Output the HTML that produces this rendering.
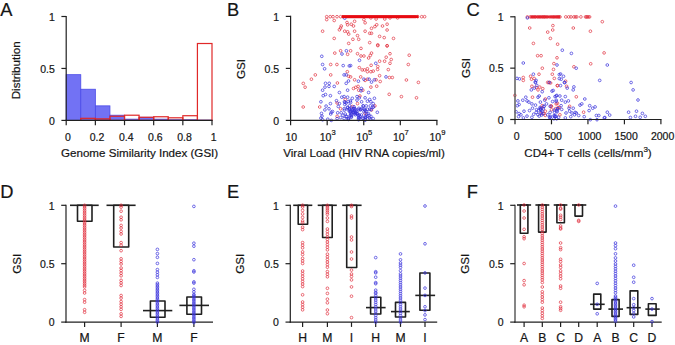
<!DOCTYPE html>
<html><head><meta charset="utf-8"><style>html,body{margin:0;padding:0;background:#fff;overflow:hidden}svg{display:block}</style></head>
<body><svg width="675" height="345" viewBox="0 0 675 345" font-family='"Liberation Sans", sans-serif' fill="#151515"><style>text{stroke:#151515;stroke-width:0.2px} circle{fill:none;stroke-width:0.85px} .r{stroke:#e02a38;stroke-opacity:0.8} .b{stroke:#3a34dc;stroke-opacity:0.85}</style><rect width="675" height="345" fill="#fff"/><text x="0.30" y="16.00" font-size="18.3" text-anchor="start" >A</text><text x="227.10" y="16.00" font-size="18.3" text-anchor="start" >B</text><text x="466.60" y="16.00" font-size="18.3" text-anchor="start" >C</text><text x="0.20" y="198.10" font-size="18.3" text-anchor="start" >D</text><text x="227.10" y="198.10" font-size="18.3" text-anchor="start" >E</text><text x="466.80" y="198.10" font-size="18.3" text-anchor="start" >F</text><rect x="66.20" y="74.68" width="14.58" height="45.72" fill="#7272f4" stroke="#4a4ae8" stroke-width="0.8"/><rect x="80.78" y="89.23" width="14.58" height="31.17" fill="#7272f4" stroke="#4a4ae8" stroke-width="0.8"/><rect x="95.36" y="105.85" width="14.58" height="14.55" fill="#7272f4" stroke="#4a4ae8" stroke-width="0.8"/><rect x="109.94" y="115.21" width="14.58" height="5.19" fill="#7272f4" stroke="#4a4ae8" stroke-width="0.8"/><rect x="124.52" y="119.15" width="14.58" height="1.25" fill="#7272f4" stroke="#4a4ae8" stroke-width="0.8"/><rect x="139.10" y="117.28" width="14.58" height="3.12" fill="#7272f4" stroke="#4a4ae8" stroke-width="0.8"/><rect x="153.68" y="119.15" width="14.58" height="1.25" fill="#7272f4" stroke="#4a4ae8" stroke-width="0.8"/><rect x="168.26" y="119.78" width="14.58" height="0.62" fill="#7272f4" stroke="#4a4ae8" stroke-width="0.8"/><rect x="182.84" y="119.78" width="14.58" height="0.62" fill="#7272f4" stroke="#4a4ae8" stroke-width="0.8"/><rect x="197.42" y="120.09" width="14.58" height="0.31" fill="#7272f4" stroke="#4a4ae8" stroke-width="0.8"/><rect x="80.78" y="118.32" width="14.58" height="2.08" fill="none" stroke="#e02828" stroke-width="1.2"/><rect x="95.36" y="118.84" width="14.58" height="1.56" fill="none" stroke="#e02828" stroke-width="1.2"/><rect x="109.94" y="116.24" width="14.58" height="4.16" fill="none" stroke="#e02828" stroke-width="1.2"/><rect x="124.52" y="115.21" width="14.58" height="5.19" fill="none" stroke="#e02828" stroke-width="1.2"/><rect x="139.10" y="117.28" width="14.58" height="3.12" fill="none" stroke="#e02828" stroke-width="1.2"/><rect x="153.68" y="116.76" width="14.58" height="3.64" fill="none" stroke="#e02828" stroke-width="1.2"/><rect x="168.26" y="117.80" width="14.58" height="2.60" fill="none" stroke="#e02828" stroke-width="1.2"/><rect x="182.84" y="115.72" width="14.58" height="4.68" fill="none" stroke="#e02828" stroke-width="1.2"/><rect x="197.42" y="43.51" width="14.58" height="76.89" fill="none" stroke="#e02828" stroke-width="1.2"/><line x1="66.20" y1="15.90" x2="66.20" y2="121.00" stroke="#202020" stroke-width="1.2"/><line x1="61.40" y1="16.50" x2="66.20" y2="16.50" stroke="#202020" stroke-width="1.2"/><text x="54.80" y="20.70" font-size="10.5" text-anchor="end" >1</text><line x1="61.40" y1="68.45" x2="66.20" y2="68.45" stroke="#202020" stroke-width="1.2"/><text x="54.80" y="72.65" font-size="10.5" text-anchor="end" >0.5</text><line x1="61.40" y1="120.40" x2="66.20" y2="120.40" stroke="#202020" stroke-width="1.2"/><text x="54.80" y="124.60" font-size="10.5" text-anchor="end" >0</text><line x1="65.60" y1="120.40" x2="212.60" y2="120.40" stroke="#202020" stroke-width="1.2"/><line x1="66.20" y1="120.40" x2="66.20" y2="125.20" stroke="#202020" stroke-width="1.2"/><text x="67.90" y="140.60" font-size="10.5" text-anchor="middle" >0</text><line x1="95.36" y1="120.40" x2="95.36" y2="125.20" stroke="#202020" stroke-width="1.2"/><text x="97.06" y="140.60" font-size="10.5" text-anchor="middle" >0.2</text><line x1="124.52" y1="120.40" x2="124.52" y2="125.20" stroke="#202020" stroke-width="1.2"/><text x="126.22" y="140.60" font-size="10.5" text-anchor="middle" >0.4</text><line x1="153.68" y1="120.40" x2="153.68" y2="125.20" stroke="#202020" stroke-width="1.2"/><text x="155.38" y="140.60" font-size="10.5" text-anchor="middle" >0.6</text><line x1="182.84" y1="120.40" x2="182.84" y2="125.20" stroke="#202020" stroke-width="1.2"/><text x="184.54" y="140.60" font-size="10.5" text-anchor="middle" >0.8</text><line x1="212.00" y1="120.40" x2="212.00" y2="125.20" stroke="#202020" stroke-width="1.2"/><text x="213.70" y="140.60" font-size="10.5" text-anchor="middle" >1</text><text x="139.60" y="156.70" font-size="11.6" text-anchor="middle" >Genome Similarity Index (GSI)</text><text x="20.30" y="70.30" font-size="11.6" text-anchor="middle" transform="rotate(-90 20.3 70.3)">Distribution</text><circle cx="326.70" cy="16.70" r="1.35" class="r"/><circle cx="330.20" cy="16.70" r="1.35" class="r"/><circle cx="333.00" cy="16.70" r="1.35" class="r"/><circle cx="337.00" cy="16.70" r="1.35" class="r"/><circle cx="340.60" cy="16.70" r="1.35" class="r"/><circle cx="343.00" cy="16.70" r="1.35" class="r"/><circle cx="345.00" cy="16.70" r="1.35" class="r"/><circle cx="347.00" cy="16.70" r="1.35" class="r"/><circle cx="349.00" cy="16.70" r="1.35" class="r"/><circle cx="351.00" cy="16.70" r="1.35" class="r"/><circle cx="353.00" cy="16.70" r="1.35" class="r"/><circle cx="355.00" cy="16.70" r="1.35" class="r"/><circle cx="357.00" cy="16.70" r="1.35" class="r"/><circle cx="359.00" cy="16.70" r="1.35" class="r"/><circle cx="361.00" cy="16.70" r="1.35" class="r"/><circle cx="363.00" cy="16.70" r="1.35" class="r"/><circle cx="365.00" cy="16.70" r="1.35" class="r"/><circle cx="367.00" cy="16.70" r="1.35" class="r"/><circle cx="369.00" cy="16.70" r="1.35" class="r"/><circle cx="371.00" cy="16.70" r="1.35" class="r"/><circle cx="373.00" cy="16.70" r="1.35" class="r"/><circle cx="375.00" cy="16.70" r="1.35" class="r"/><circle cx="377.00" cy="16.70" r="1.35" class="r"/><circle cx="379.00" cy="16.70" r="1.35" class="r"/><circle cx="381.00" cy="16.70" r="1.35" class="r"/><circle cx="383.00" cy="16.70" r="1.35" class="r"/><circle cx="385.00" cy="16.70" r="1.35" class="r"/><circle cx="387.00" cy="16.70" r="1.35" class="r"/><circle cx="389.00" cy="16.70" r="1.35" class="r"/><circle cx="391.00" cy="16.70" r="1.35" class="r"/><circle cx="393.00" cy="16.70" r="1.35" class="r"/><circle cx="395.00" cy="16.70" r="1.35" class="r"/><circle cx="397.00" cy="16.70" r="1.35" class="r"/><circle cx="399.00" cy="16.70" r="1.35" class="r"/><circle cx="401.00" cy="16.70" r="1.35" class="r"/><circle cx="403.00" cy="16.70" r="1.35" class="r"/><circle cx="405.00" cy="16.70" r="1.35" class="r"/><circle cx="407.00" cy="16.70" r="1.35" class="r"/><circle cx="409.00" cy="16.70" r="1.35" class="r"/><circle cx="411.00" cy="16.70" r="1.35" class="r"/><circle cx="413.00" cy="16.70" r="1.35" class="r"/><circle cx="415.00" cy="16.70" r="1.35" class="r"/><circle cx="417.50" cy="16.70" r="1.35" class="r"/><circle cx="421.70" cy="16.70" r="1.35" class="r"/><circle cx="424.60" cy="16.70" r="1.35" class="r"/><circle cx="326.70" cy="19.60" r="1.35" class="r"/><circle cx="334.20" cy="20.50" r="1.35" class="r"/><circle cx="322.60" cy="31.20" r="1.35" class="r"/><circle cx="334.20" cy="38.40" r="1.35" class="r"/><circle cx="339.40" cy="29.80" r="1.35" class="r"/><circle cx="341.20" cy="26.00" r="1.35" class="r"/><circle cx="340.60" cy="28.00" r="1.35" class="r"/><circle cx="344.70" cy="31.20" r="1.35" class="r"/><circle cx="347.00" cy="22.50" r="1.35" class="r"/><circle cx="347.60" cy="24.80" r="1.35" class="r"/><circle cx="347.60" cy="31.80" r="1.35" class="r"/><circle cx="348.70" cy="34.10" r="1.35" class="r"/><circle cx="348.70" cy="43.40" r="1.35" class="r"/><circle cx="354.60" cy="21.30" r="1.35" class="r"/><circle cx="351.20" cy="24.20" r="1.35" class="r"/><circle cx="353.50" cy="26.00" r="1.35" class="r"/><circle cx="363.90" cy="19.60" r="1.35" class="r"/><circle cx="365.10" cy="22.80" r="1.35" class="r"/><circle cx="370.90" cy="17.90" r="1.35" class="r"/><circle cx="376.10" cy="19.00" r="1.35" class="r"/><circle cx="384.80" cy="19.00" r="1.35" class="r"/><circle cx="390.00" cy="17.90" r="1.35" class="r"/><circle cx="397.60" cy="17.90" r="1.35" class="r"/><circle cx="376.70" cy="24.80" r="1.35" class="r"/><circle cx="374.90" cy="26.60" r="1.35" class="r"/><circle cx="371.50" cy="28.30" r="1.35" class="r"/><circle cx="382.50" cy="26.00" r="1.35" class="r"/><circle cx="387.10" cy="24.20" r="1.35" class="r"/><circle cx="354.60" cy="31.20" r="1.35" class="r"/><circle cx="365.10" cy="31.20" r="1.35" class="r"/><circle cx="369.70" cy="33.30" r="1.35" class="r"/><circle cx="371.50" cy="33.30" r="1.35" class="r"/><circle cx="387.10" cy="30.00" r="1.35" class="r"/><circle cx="357.50" cy="35.60" r="1.35" class="r"/><circle cx="352.90" cy="39.30" r="1.35" class="r"/><circle cx="358.70" cy="39.30" r="1.35" class="r"/><circle cx="379.60" cy="36.40" r="1.35" class="r"/><circle cx="384.20" cy="37.60" r="1.35" class="r"/><circle cx="393.50" cy="38.40" r="1.35" class="r"/><circle cx="369.70" cy="42.60" r="1.35" class="r"/><circle cx="377.80" cy="44.90" r="1.35" class="r"/><circle cx="387.10" cy="45.70" r="1.35" class="r"/><circle cx="361.00" cy="48.40" r="1.35" class="r"/><circle cx="334.80" cy="53.10" r="1.35" class="r"/><circle cx="340.60" cy="50.80" r="1.35" class="r"/><circle cx="347.60" cy="54.30" r="1.35" class="r"/><circle cx="330.70" cy="64.50" r="1.35" class="r"/><circle cx="336.90" cy="64.50" r="1.35" class="r"/><circle cx="347.30" cy="71.70" r="1.35" class="r"/><circle cx="315.30" cy="74.90" r="1.35" class="r"/><circle cx="330.70" cy="74.90" r="1.35" class="r"/><circle cx="311.40" cy="79.20" r="1.35" class="r"/><circle cx="303.30" cy="83.40" r="1.35" class="r"/><circle cx="337.40" cy="83.00" r="1.35" class="r"/><circle cx="348.70" cy="76.30" r="1.35" class="r"/><circle cx="350.60" cy="50.80" r="1.35" class="r"/><circle cx="357.50" cy="53.70" r="1.35" class="r"/><circle cx="361.00" cy="56.00" r="1.35" class="r"/><circle cx="363.90" cy="56.00" r="1.35" class="r"/><circle cx="371.50" cy="53.10" r="1.35" class="r"/><circle cx="370.30" cy="55.40" r="1.35" class="r"/><circle cx="368.60" cy="58.00" r="1.35" class="r"/><circle cx="377.80" cy="45.60" r="1.35" class="r"/><circle cx="387.10" cy="45.90" r="1.35" class="r"/><circle cx="390.00" cy="53.70" r="1.35" class="r"/><circle cx="386.20" cy="57.20" r="1.35" class="r"/><circle cx="391.20" cy="59.50" r="1.35" class="r"/><circle cx="384.60" cy="61.20" r="1.35" class="r"/><circle cx="379.60" cy="61.20" r="1.35" class="r"/><circle cx="390.00" cy="63.30" r="1.35" class="r"/><circle cx="371.10" cy="65.30" r="1.35" class="r"/><circle cx="377.80" cy="66.50" r="1.35" class="r"/><circle cx="377.60" cy="69.40" r="1.35" class="r"/><circle cx="388.30" cy="69.60" r="1.35" class="r"/><circle cx="359.30" cy="67.60" r="1.35" class="r"/><circle cx="362.20" cy="69.90" r="1.35" class="r"/><circle cx="364.50" cy="69.90" r="1.35" class="r"/><circle cx="367.40" cy="68.80" r="1.35" class="r"/><circle cx="367.40" cy="71.70" r="1.35" class="r"/><circle cx="370.90" cy="71.70" r="1.35" class="r"/><circle cx="373.20" cy="71.10" r="1.35" class="r"/><circle cx="379.60" cy="75.70" r="1.35" class="r"/><circle cx="360.70" cy="76.90" r="1.35" class="r"/><circle cx="354.60" cy="79.80" r="1.35" class="r"/><circle cx="365.10" cy="80.40" r="1.35" class="r"/><circle cx="367.40" cy="79.20" r="1.35" class="r"/><circle cx="376.10" cy="79.80" r="1.35" class="r"/><circle cx="380.20" cy="81.50" r="1.35" class="r"/><circle cx="389.40" cy="77.50" r="1.35" class="r"/><circle cx="392.30" cy="77.50" r="1.35" class="r"/><circle cx="350.60" cy="76.90" r="1.35" class="r"/><circle cx="409.20" cy="55.20" r="1.35" class="r"/><circle cx="408.30" cy="64.50" r="1.35" class="r"/><circle cx="406.40" cy="80.00" r="1.35" class="r"/><circle cx="418.40" cy="82.40" r="1.35" class="r"/><circle cx="305.10" cy="87.20" r="1.35" class="r"/><circle cx="303.20" cy="107.00" r="1.35" class="r"/><circle cx="319.70" cy="107.00" r="1.35" class="r"/><circle cx="337.10" cy="103.00" r="1.35" class="r"/><circle cx="340.60" cy="108.80" r="1.35" class="r"/><circle cx="337.10" cy="116.30" r="1.35" class="r"/><circle cx="345.20" cy="99.50" r="1.35" class="r"/><circle cx="353.50" cy="88.50" r="1.35" class="r"/><circle cx="355.80" cy="87.30" r="1.35" class="r"/><circle cx="358.10" cy="86.40" r="1.35" class="r"/><circle cx="358.70" cy="90.20" r="1.35" class="r"/><circle cx="362.80" cy="90.20" r="1.35" class="r"/><circle cx="370.90" cy="87.10" r="1.35" class="r"/><circle cx="376.70" cy="86.20" r="1.35" class="r"/><circle cx="389.20" cy="94.30" r="1.35" class="r"/><circle cx="359.90" cy="96.00" r="1.35" class="r"/><circle cx="357.50" cy="103.60" r="1.35" class="r"/><circle cx="374.90" cy="105.90" r="1.35" class="r"/><circle cx="371.50" cy="110.00" r="1.35" class="r"/><circle cx="352.30" cy="106.50" r="1.35" class="r"/><circle cx="365.10" cy="113.40" r="1.35" class="r"/><circle cx="401.40" cy="96.60" r="1.35" class="r"/><circle cx="416.50" cy="97.80" r="1.35" class="r"/><circle cx="344.70" cy="18.20" r="1.35" class="b"/><circle cx="321.80" cy="56.30" r="1.35" class="b"/><circle cx="342.00" cy="54.00" r="1.35" class="b"/><circle cx="346.40" cy="50.80" r="1.35" class="b"/><circle cx="322.60" cy="64.50" r="1.35" class="b"/><circle cx="324.60" cy="68.80" r="1.35" class="b"/><circle cx="343.20" cy="65.60" r="1.35" class="b"/><circle cx="344.10" cy="74.90" r="1.35" class="b"/><circle cx="346.20" cy="74.90" r="1.35" class="b"/><circle cx="325.50" cy="83.30" r="1.35" class="b"/><circle cx="329.20" cy="83.30" r="1.35" class="b"/><circle cx="346.20" cy="83.30" r="1.35" class="b"/><circle cx="349.30" cy="65.90" r="1.35" class="b"/><circle cx="348.50" cy="81.00" r="1.35" class="b"/><circle cx="359.50" cy="60.30" r="1.35" class="b"/><circle cx="350.60" cy="65.60" r="1.35" class="b"/><circle cx="375.80" cy="63.30" r="1.35" class="b"/><circle cx="386.00" cy="76.90" r="1.35" class="b"/><circle cx="363.90" cy="79.20" r="1.35" class="b"/><circle cx="369.10" cy="79.20" r="1.35" class="b"/><circle cx="374.40" cy="79.80" r="1.35" class="b"/><circle cx="358.40" cy="81.20" r="1.35" class="b"/><circle cx="371.50" cy="82.10" r="1.35" class="b"/><circle cx="325.00" cy="87.10" r="1.35" class="b"/><circle cx="329.00" cy="86.40" r="1.35" class="b"/><circle cx="334.20" cy="86.40" r="1.35" class="b"/><circle cx="322.60" cy="90.20" r="1.35" class="b"/><circle cx="347.60" cy="90.20" r="1.35" class="b"/><circle cx="339.40" cy="92.50" r="1.35" class="b"/><circle cx="323.20" cy="95.70" r="1.35" class="b"/><circle cx="325.50" cy="94.50" r="1.35" class="b"/><circle cx="330.40" cy="95.70" r="1.35" class="b"/><circle cx="341.80" cy="97.20" r="1.35" class="b"/><circle cx="344.10" cy="96.60" r="1.35" class="b"/><circle cx="347.60" cy="97.20" r="1.35" class="b"/><circle cx="320.90" cy="101.80" r="1.35" class="b"/><circle cx="330.40" cy="103.60" r="1.35" class="b"/><circle cx="336.50" cy="100.70" r="1.35" class="b"/><circle cx="339.40" cy="103.60" r="1.35" class="b"/><circle cx="326.10" cy="106.10" r="1.35" class="b"/><circle cx="329.00" cy="108.80" r="1.35" class="b"/><circle cx="324.90" cy="109.90" r="1.35" class="b"/><circle cx="338.30" cy="106.50" r="1.35" class="b"/><circle cx="331.30" cy="112.30" r="1.35" class="b"/><circle cx="332.50" cy="111.50" r="1.35" class="b"/><circle cx="330.70" cy="114.00" r="1.35" class="b"/><circle cx="321.50" cy="113.40" r="1.35" class="b"/><circle cx="322.00" cy="116.10" r="1.35" class="b"/><circle cx="320.90" cy="118.10" r="1.35" class="b"/><circle cx="322.60" cy="119.80" r="1.35" class="b"/><circle cx="327.80" cy="119.20" r="1.35" class="b"/><circle cx="331.30" cy="120.40" r="1.35" class="b"/><circle cx="337.70" cy="112.80" r="1.35" class="b"/><circle cx="337.10" cy="118.60" r="1.35" class="b"/><circle cx="341.20" cy="112.80" r="1.35" class="b"/><circle cx="342.90" cy="115.20" r="1.35" class="b"/><circle cx="340.60" cy="117.50" r="1.35" class="b"/><circle cx="345.20" cy="114.00" r="1.35" class="b"/><circle cx="344.10" cy="118.60" r="1.35" class="b"/><circle cx="361.40" cy="88.50" r="1.35" class="b"/><circle cx="361.00" cy="90.80" r="1.35" class="b"/><circle cx="368.60" cy="92.50" r="1.35" class="b"/><circle cx="352.30" cy="98.30" r="1.35" class="b"/><circle cx="357.00" cy="96.60" r="1.35" class="b"/><circle cx="359.30" cy="97.80" r="1.35" class="b"/><circle cx="357.00" cy="100.10" r="1.35" class="b"/><circle cx="365.10" cy="97.80" r="1.35" class="b"/><circle cx="361.60" cy="101.80" r="1.35" class="b"/><circle cx="369.70" cy="99.50" r="1.35" class="b"/><circle cx="367.40" cy="101.20" r="1.35" class="b"/><circle cx="374.40" cy="98.30" r="1.35" class="b"/><circle cx="370.90" cy="101.80" r="1.35" class="b"/><circle cx="373.20" cy="103.60" r="1.35" class="b"/><circle cx="363.30" cy="105.90" r="1.35" class="b"/><circle cx="366.20" cy="105.90" r="1.35" class="b"/><circle cx="370.30" cy="105.90" r="1.35" class="b"/><circle cx="377.30" cy="112.30" r="1.35" class="b"/><circle cx="350.60" cy="102.40" r="1.35" class="b"/><circle cx="373.20" cy="118.60" r="1.35" class="b"/><circle cx="370.90" cy="116.30" r="1.35" class="b"/><circle cx="346.10" cy="103.02" r="1.35" class="b"/><circle cx="348.23" cy="101.45" r="1.35" class="b"/><circle cx="347.48" cy="107.31" r="1.35" class="b"/><circle cx="344.38" cy="110.15" r="1.35" class="b"/><circle cx="344.24" cy="108.67" r="1.35" class="b"/><circle cx="344.45" cy="101.81" r="1.35" class="b"/><circle cx="346.76" cy="116.54" r="1.35" class="b"/><circle cx="344.80" cy="104.46" r="1.35" class="b"/><circle cx="348.08" cy="118.95" r="1.35" class="b"/><circle cx="347.75" cy="107.93" r="1.35" class="b"/><circle cx="350.35" cy="100.93" r="1.35" class="b"/><circle cx="349.58" cy="105.79" r="1.35" class="b"/><circle cx="344.94" cy="102.36" r="1.35" class="b"/><circle cx="346.01" cy="116.32" r="1.35" class="b"/><circle cx="354.34" cy="113.72" r="1.35" class="b"/><circle cx="365.33" cy="110.59" r="1.35" class="b"/><circle cx="363.15" cy="105.94" r="1.35" class="b"/><circle cx="351.43" cy="108.09" r="1.35" class="b"/><circle cx="366.33" cy="111.41" r="1.35" class="b"/><circle cx="357.54" cy="113.78" r="1.35" class="b"/><circle cx="360.88" cy="109.50" r="1.35" class="b"/><circle cx="369.07" cy="115.48" r="1.35" class="b"/><circle cx="355.86" cy="113.62" r="1.35" class="b"/><circle cx="362.60" cy="118.13" r="1.35" class="b"/><circle cx="367.51" cy="109.32" r="1.35" class="b"/><circle cx="373.52" cy="106.77" r="1.35" class="b"/><circle cx="360.03" cy="116.36" r="1.35" class="b"/><circle cx="353.65" cy="112.33" r="1.35" class="b"/><circle cx="350.94" cy="115.02" r="1.35" class="b"/><circle cx="368.35" cy="113.60" r="1.35" class="b"/><circle cx="371.01" cy="109.71" r="1.35" class="b"/><circle cx="366.69" cy="113.92" r="1.35" class="b"/><circle cx="363.92" cy="111.84" r="1.35" class="b"/><circle cx="370.16" cy="119.17" r="1.35" class="b"/><circle cx="361.38" cy="114.96" r="1.35" class="b"/><circle cx="351.46" cy="115.52" r="1.35" class="b"/><circle cx="365.53" cy="119.90" r="1.35" class="b"/><circle cx="369.73" cy="109.27" r="1.35" class="b"/><circle cx="359.26" cy="115.03" r="1.35" class="b"/><circle cx="350.54" cy="111.93" r="1.35" class="b"/><circle cx="354.03" cy="106.76" r="1.35" class="b"/><circle cx="351.41" cy="116.52" r="1.35" class="b"/><circle cx="353.10" cy="108.71" r="1.35" class="b"/><circle cx="359.38" cy="118.07" r="1.35" class="b"/><circle cx="351.93" cy="111.74" r="1.35" class="b"/><circle cx="363.19" cy="118.25" r="1.35" class="b"/><circle cx="369.66" cy="117.96" r="1.35" class="b"/><circle cx="356.68" cy="111.23" r="1.35" class="b"/><circle cx="358.61" cy="118.26" r="1.35" class="b"/><circle cx="372.99" cy="107.26" r="1.35" class="b"/><circle cx="354.23" cy="108.48" r="1.35" class="b"/><circle cx="355.60" cy="112.27" r="1.35" class="b"/><circle cx="364.14" cy="108.94" r="1.35" class="b"/><circle cx="350.10" cy="111.28" r="1.35" class="b"/><circle cx="355.39" cy="114.80" r="1.35" class="b"/><circle cx="367.06" cy="116.29" r="1.35" class="b"/><circle cx="358.31" cy="115.41" r="1.35" class="b"/><circle cx="361.52" cy="108.65" r="1.35" class="b"/><circle cx="365.99" cy="117.36" r="1.35" class="b"/><circle cx="365.49" cy="117.57" r="1.35" class="b"/><circle cx="355.85" cy="112.79" r="1.35" class="b"/><circle cx="350.07" cy="115.61" r="1.35" class="b"/><circle cx="349.24" cy="108.81" r="1.35" class="b"/><circle cx="352.18" cy="109.95" r="1.35" class="b"/><circle cx="354.80" cy="108.63" r="1.35" class="b"/><circle cx="348.00" cy="109.82" r="1.35" class="b"/><circle cx="350.03" cy="112.36" r="1.35" class="b"/><circle cx="348.51" cy="118.49" r="1.35" class="b"/><circle cx="360.28" cy="109.78" r="1.35" class="b"/><circle cx="353.05" cy="112.17" r="1.35" class="b"/><circle cx="355.28" cy="109.47" r="1.35" class="b"/><circle cx="364.98" cy="119.92" r="1.35" class="b"/><circle cx="357.32" cy="113.81" r="1.35" class="b"/><circle cx="349.72" cy="109.23" r="1.35" class="b"/><circle cx="354.85" cy="111.18" r="1.35" class="b"/><circle cx="364.58" cy="109.94" r="1.35" class="b"/><circle cx="348.46" cy="119.41" r="1.35" class="b"/><circle cx="358.57" cy="109.76" r="1.35" class="b"/><circle cx="358.86" cy="108.32" r="1.35" class="b"/><circle cx="358.56" cy="119.74" r="1.35" class="b"/><circle cx="365.27" cy="116.35" r="1.35" class="b"/><circle cx="353.22" cy="112.40" r="1.35" class="b"/><circle cx="351.34" cy="117.26" r="1.35" class="b"/><circle cx="358.65" cy="117.35" r="1.35" class="b"/><line x1="342" y1="16.6" x2="418.5" y2="16.6" stroke="#e80a10" stroke-width="2.9"/><line x1="290.60" y1="15.80" x2="290.60" y2="121.00" stroke="#202020" stroke-width="1.2"/><line x1="285.80" y1="16.40" x2="290.60" y2="16.40" stroke="#202020" stroke-width="1.2"/><text x="279.20" y="20.60" font-size="10.5" text-anchor="end" >1</text><line x1="285.80" y1="68.40" x2="290.60" y2="68.40" stroke="#202020" stroke-width="1.2"/><text x="279.20" y="72.60" font-size="10.5" text-anchor="end" >0.5</text><line x1="285.80" y1="120.40" x2="290.60" y2="120.40" stroke="#202020" stroke-width="1.2"/><text x="279.20" y="124.60" font-size="10.5" text-anchor="end" >0</text><line x1="290.00" y1="120.40" x2="437.50" y2="120.40" stroke="#202020" stroke-width="1.2"/><line x1="290.60" y1="120.40" x2="290.60" y2="125.20" stroke="#202020" stroke-width="1.2"/><line x1="327.18" y1="120.40" x2="327.18" y2="125.20" stroke="#202020" stroke-width="1.2"/><line x1="363.75" y1="120.40" x2="363.75" y2="125.20" stroke="#202020" stroke-width="1.2"/><line x1="400.32" y1="120.40" x2="400.32" y2="125.20" stroke="#202020" stroke-width="1.2"/><line x1="436.90" y1="120.40" x2="436.90" y2="125.20" stroke="#202020" stroke-width="1.2"/><text x="291.30" y="140.60" font-size="10.5" text-anchor="middle" >10</text><text x="325.57" y="140.60" font-size="10.5" text-anchor="middle" >10</text><text x="333.57" y="135.40" font-size="7.6" text-anchor="middle" >3</text><text x="362.15" y="140.60" font-size="10.5" text-anchor="middle" >10</text><text x="370.15" y="135.40" font-size="7.6" text-anchor="middle" >5</text><text x="398.72" y="140.60" font-size="10.5" text-anchor="middle" >10</text><text x="406.72" y="135.40" font-size="7.6" text-anchor="middle" >7</text><text x="435.30" y="140.60" font-size="10.5" text-anchor="middle" >10</text><text x="443.30" y="135.40" font-size="7.6" text-anchor="middle" >9</text><text x="364.00" y="156.70" font-size="11.6" text-anchor="middle" >Viral Load (HIV RNA copies/ml)</text><text x="244.90" y="69.00" font-size="11.6" text-anchor="middle" transform="rotate(-90 244.9 69)">GSI</text><circle cx="530.30" cy="16.90" r="1.35" class="r"/><circle cx="532.60" cy="16.90" r="1.35" class="r"/><circle cx="534.90" cy="16.90" r="1.35" class="r"/><circle cx="537.30" cy="16.90" r="1.35" class="r"/><circle cx="539.60" cy="16.90" r="1.35" class="r"/><circle cx="541.90" cy="16.90" r="1.35" class="r"/><circle cx="544.20" cy="16.90" r="1.35" class="r"/><circle cx="546.50" cy="16.90" r="1.35" class="r"/><circle cx="549.40" cy="16.90" r="1.35" class="r"/><circle cx="553.50" cy="16.90" r="1.35" class="r"/><circle cx="555.80" cy="16.90" r="1.35" class="r"/><circle cx="558.10" cy="16.90" r="1.35" class="r"/><circle cx="560.00" cy="16.90" r="1.35" class="r"/><circle cx="565.80" cy="16.90" r="1.35" class="r"/><circle cx="568.70" cy="16.90" r="1.35" class="r"/><circle cx="571.00" cy="16.90" r="1.35" class="r"/><circle cx="573.90" cy="16.90" r="1.35" class="r"/><circle cx="576.80" cy="16.90" r="1.35" class="r"/><circle cx="580.90" cy="16.90" r="1.35" class="r"/><circle cx="585.50" cy="16.90" r="1.35" class="r"/><circle cx="587.30" cy="16.90" r="1.35" class="r"/><circle cx="589.60" cy="16.90" r="1.35" class="r"/><circle cx="527.40" cy="16.90" r="1.35" class="r"/><circle cx="531.50" cy="16.90" r="1.35" class="r"/><circle cx="533.50" cy="16.90" r="1.35" class="r"/><circle cx="535.50" cy="16.90" r="1.35" class="r"/><circle cx="538.30" cy="16.90" r="1.35" class="r"/><circle cx="540.50" cy="16.90" r="1.35" class="r"/><circle cx="543.00" cy="16.90" r="1.35" class="r"/><circle cx="545.00" cy="16.90" r="1.35" class="r"/><circle cx="547.50" cy="16.90" r="1.35" class="r"/><circle cx="551.00" cy="16.90" r="1.35" class="r"/><circle cx="552.50" cy="16.90" r="1.35" class="r"/><circle cx="554.50" cy="16.90" r="1.35" class="r"/><circle cx="557.00" cy="16.90" r="1.35" class="r"/><circle cx="559.00" cy="16.90" r="1.35" class="r"/><circle cx="575.50" cy="16.90" r="1.35" class="r"/><circle cx="586.50" cy="16.90" r="1.35" class="r"/><circle cx="588.50" cy="16.90" r="1.35" class="r"/><circle cx="529.70" cy="28.00" r="1.35" class="r"/><circle cx="552.90" cy="25.60" r="1.35" class="r"/><circle cx="552.70" cy="30.00" r="1.35" class="r"/><circle cx="547.70" cy="32.10" r="1.35" class="r"/><circle cx="550.40" cy="38.40" r="1.35" class="r"/><circle cx="533.40" cy="43.40" r="1.35" class="r"/><circle cx="557.60" cy="44.20" r="1.35" class="r"/><circle cx="573.30" cy="28.00" r="1.35" class="r"/><circle cx="590.40" cy="31.20" r="1.35" class="r"/><circle cx="602.30" cy="21.70" r="1.35" class="r"/><circle cx="537.60" cy="55.70" r="1.35" class="r"/><circle cx="541.10" cy="55.70" r="1.35" class="r"/><circle cx="557.00" cy="57.80" r="1.35" class="r"/><circle cx="553.90" cy="63.60" r="1.35" class="r"/><circle cx="542.30" cy="68.20" r="1.35" class="r"/><circle cx="553.50" cy="69.40" r="1.35" class="r"/><circle cx="539.00" cy="74.20" r="1.35" class="r"/><circle cx="552.30" cy="74.20" r="1.35" class="r"/><circle cx="530.60" cy="76.30" r="1.35" class="r"/><circle cx="523.30" cy="77.50" r="1.35" class="r"/><circle cx="523.30" cy="80.40" r="1.35" class="r"/><circle cx="531.50" cy="79.20" r="1.35" class="r"/><circle cx="534.10" cy="78.40" r="1.35" class="r"/><circle cx="554.30" cy="78.40" r="1.35" class="r"/><circle cx="547.70" cy="82.40" r="1.35" class="r"/><circle cx="550.60" cy="83.00" r="1.35" class="r"/><circle cx="604.10" cy="52.90" r="1.35" class="r"/><circle cx="590.70" cy="63.80" r="1.35" class="r"/><circle cx="573.90" cy="66.80" r="1.35" class="r"/><circle cx="565.60" cy="81.20" r="1.35" class="r"/><circle cx="531.90" cy="86.30" r="1.35" class="r"/><circle cx="536.20" cy="87.50" r="1.35" class="r"/><circle cx="539.80" cy="87.10" r="1.35" class="r"/><circle cx="538.00" cy="89.90" r="1.35" class="r"/><circle cx="542.80" cy="88.70" r="1.35" class="r"/><circle cx="548.90" cy="82.60" r="1.35" class="r"/><circle cx="557.40" cy="85.60" r="1.35" class="r"/><circle cx="514.90" cy="95.40" r="1.35" class="r"/><circle cx="532.50" cy="97.20" r="1.35" class="r"/><circle cx="545.30" cy="99.00" r="1.35" class="r"/><circle cx="542.20" cy="105.70" r="1.35" class="r"/><circle cx="541.60" cy="108.20" r="1.35" class="r"/><circle cx="545.30" cy="111.20" r="1.35" class="r"/><circle cx="551.40" cy="106.30" r="1.35" class="r"/><circle cx="556.20" cy="103.90" r="1.35" class="r"/><circle cx="558.10" cy="107.50" r="1.35" class="r"/><circle cx="557.40" cy="85.60" r="1.35" class="r"/><circle cx="566.60" cy="86.30" r="1.35" class="r"/><circle cx="576.30" cy="96.80" r="1.35" class="r"/><circle cx="557.40" cy="103.30" r="1.35" class="r"/><circle cx="559.30" cy="107.50" r="1.35" class="r"/><circle cx="569.60" cy="106.30" r="1.35" class="r"/><circle cx="559.90" cy="114.80" r="1.35" class="r"/><circle cx="583.60" cy="112.20" r="1.35" class="r"/><circle cx="551.50" cy="109.74" r="1.35" class="r"/><circle cx="541.21" cy="113.47" r="1.35" class="r"/><circle cx="543.99" cy="113.61" r="1.35" class="r"/><circle cx="555.49" cy="108.75" r="1.35" class="r"/><circle cx="545.22" cy="115.36" r="1.35" class="r"/><circle cx="551.05" cy="106.04" r="1.35" class="r"/><circle cx="527.40" cy="17.90" r="1.35" class="b"/><circle cx="523.30" cy="63.00" r="1.35" class="b"/><circle cx="557.00" cy="65.00" r="1.35" class="b"/><circle cx="533.40" cy="74.20" r="1.35" class="b"/><circle cx="517.00" cy="78.40" r="1.35" class="b"/><circle cx="519.50" cy="78.90" r="1.35" class="b"/><circle cx="536.10" cy="80.40" r="1.35" class="b"/><circle cx="535.30" cy="81.90" r="1.35" class="b"/><circle cx="549.40" cy="82.40" r="1.35" class="b"/><circle cx="559.30" cy="74.60" r="1.35" class="b"/><circle cx="559.30" cy="78.60" r="1.35" class="b"/><circle cx="562.30" cy="50.20" r="1.35" class="b"/><circle cx="571.40" cy="53.40" r="1.35" class="b"/><circle cx="576.20" cy="68.20" r="1.35" class="b"/><circle cx="607.30" cy="65.00" r="1.35" class="b"/><circle cx="560.60" cy="74.00" r="1.35" class="b"/><circle cx="563.50" cy="76.30" r="1.35" class="b"/><circle cx="561.20" cy="79.20" r="1.35" class="b"/><circle cx="564.40" cy="82.40" r="1.35" class="b"/><circle cx="599.70" cy="80.40" r="1.35" class="b"/><circle cx="631.10" cy="82.50" r="1.35" class="b"/><circle cx="535.50" cy="82.60" r="1.35" class="b"/><circle cx="536.80" cy="85.40" r="1.35" class="b"/><circle cx="531.30" cy="89.90" r="1.35" class="b"/><circle cx="534.30" cy="88.10" r="1.35" class="b"/><circle cx="542.20" cy="91.70" r="1.35" class="b"/><circle cx="552.00" cy="91.10" r="1.35" class="b"/><circle cx="553.20" cy="90.50" r="1.35" class="b"/><circle cx="538.00" cy="97.20" r="1.35" class="b"/><circle cx="539.20" cy="96.00" r="1.35" class="b"/><circle cx="525.80" cy="97.20" r="1.35" class="b"/><circle cx="522.80" cy="100.20" r="1.35" class="b"/><circle cx="517.90" cy="100.90" r="1.35" class="b"/><circle cx="527.00" cy="100.90" r="1.35" class="b"/><circle cx="528.90" cy="102.10" r="1.35" class="b"/><circle cx="531.90" cy="103.90" r="1.35" class="b"/><circle cx="535.50" cy="105.10" r="1.35" class="b"/><circle cx="540.40" cy="102.10" r="1.35" class="b"/><circle cx="544.70" cy="100.20" r="1.35" class="b"/><circle cx="548.90" cy="97.80" r="1.35" class="b"/><circle cx="555.00" cy="96.60" r="1.35" class="b"/><circle cx="556.80" cy="95.40" r="1.35" class="b"/><circle cx="552.60" cy="101.50" r="1.35" class="b"/><circle cx="517.30" cy="105.70" r="1.35" class="b"/><circle cx="519.10" cy="104.50" r="1.35" class="b"/><circle cx="516.10" cy="111.80" r="1.35" class="b"/><circle cx="519.10" cy="113.60" r="1.35" class="b"/><circle cx="520.90" cy="114.80" r="1.35" class="b"/><circle cx="518.50" cy="116.70" r="1.35" class="b"/><circle cx="524.00" cy="111.20" r="1.35" class="b"/><circle cx="529.50" cy="110.60" r="1.35" class="b"/><circle cx="532.50" cy="108.20" r="1.35" class="b"/><circle cx="533.70" cy="114.20" r="1.35" class="b"/><circle cx="536.20" cy="112.40" r="1.35" class="b"/><circle cx="527.00" cy="116.10" r="1.35" class="b"/><circle cx="531.90" cy="117.30" r="1.35" class="b"/><circle cx="539.20" cy="116.10" r="1.35" class="b"/><circle cx="542.80" cy="113.60" r="1.35" class="b"/><circle cx="547.70" cy="114.80" r="1.35" class="b"/><circle cx="550.10" cy="112.40" r="1.35" class="b"/><circle cx="554.40" cy="110.00" r="1.35" class="b"/><circle cx="558.00" cy="108.80" r="1.35" class="b"/><circle cx="544.10" cy="106.30" r="1.35" class="b"/><circle cx="546.50" cy="103.90" r="1.35" class="b"/><circle cx="550.10" cy="117.30" r="1.35" class="b"/><circle cx="555.00" cy="116.10" r="1.35" class="b"/><circle cx="523.40" cy="117.90" r="1.35" class="b"/><circle cx="556.20" cy="101.50" r="1.35" class="b"/><circle cx="550.10" cy="106.30" r="1.35" class="b"/><circle cx="540.40" cy="109.40" r="1.35" class="b"/><circle cx="538.50" cy="110.50" r="1.35" class="b"/><circle cx="542.00" cy="111.00" r="1.35" class="b"/><circle cx="540.00" cy="107.50" r="1.35" class="b"/><circle cx="560.50" cy="85.60" r="1.35" class="b"/><circle cx="564.70" cy="82.60" r="1.35" class="b"/><circle cx="567.20" cy="88.10" r="1.35" class="b"/><circle cx="573.90" cy="86.90" r="1.35" class="b"/><circle cx="573.20" cy="89.90" r="1.35" class="b"/><circle cx="556.20" cy="96.00" r="1.35" class="b"/><circle cx="559.90" cy="96.00" r="1.35" class="b"/><circle cx="565.30" cy="96.60" r="1.35" class="b"/><circle cx="561.70" cy="100.20" r="1.35" class="b"/><circle cx="565.30" cy="102.10" r="1.35" class="b"/><circle cx="568.40" cy="100.90" r="1.35" class="b"/><circle cx="556.20" cy="100.20" r="1.35" class="b"/><circle cx="561.10" cy="105.70" r="1.35" class="b"/><circle cx="557.40" cy="108.80" r="1.35" class="b"/><circle cx="561.70" cy="109.40" r="1.35" class="b"/><circle cx="569.00" cy="108.20" r="1.35" class="b"/><circle cx="573.20" cy="108.20" r="1.35" class="b"/><circle cx="569.60" cy="111.20" r="1.35" class="b"/><circle cx="566.00" cy="113.00" r="1.35" class="b"/><circle cx="572.00" cy="113.00" r="1.35" class="b"/><circle cx="575.10" cy="112.40" r="1.35" class="b"/><circle cx="576.30" cy="113.00" r="1.35" class="b"/><circle cx="574.50" cy="114.80" r="1.35" class="b"/><circle cx="578.70" cy="115.50" r="1.35" class="b"/><circle cx="570.80" cy="116.70" r="1.35" class="b"/><circle cx="565.30" cy="117.90" r="1.35" class="b"/><circle cx="558.60" cy="117.30" r="1.35" class="b"/><circle cx="580.00" cy="105.10" r="1.35" class="b"/><circle cx="581.80" cy="103.90" r="1.35" class="b"/><circle cx="584.80" cy="99.00" r="1.35" class="b"/><circle cx="589.70" cy="105.70" r="1.35" class="b"/><circle cx="589.10" cy="110.60" r="1.35" class="b"/><circle cx="592.70" cy="108.20" r="1.35" class="b"/><circle cx="595.10" cy="106.90" r="1.35" class="b"/><circle cx="584.20" cy="116.70" r="1.35" class="b"/><circle cx="596.40" cy="115.50" r="1.35" class="b"/><circle cx="598.80" cy="115.50" r="1.35" class="b"/><circle cx="590.30" cy="119.70" r="1.35" class="b"/><circle cx="597.00" cy="119.70" r="1.35" class="b"/><circle cx="604.30" cy="117.90" r="1.35" class="b"/><circle cx="633.10" cy="89.90" r="1.35" class="b"/><circle cx="638.00" cy="100.00" r="1.35" class="b"/><circle cx="607.30" cy="112.20" r="1.35" class="b"/><circle cx="609.70" cy="115.10" r="1.35" class="b"/><circle cx="604.90" cy="117.50" r="1.35" class="b"/><circle cx="628.60" cy="112.20" r="1.35" class="b"/><circle cx="636.50" cy="111.20" r="1.35" class="b"/><circle cx="642.40" cy="113.40" r="1.35" class="b"/><circle cx="630.40" cy="117.50" r="1.35" class="b"/><circle cx="635.50" cy="116.30" r="1.35" class="b"/><circle cx="640.20" cy="117.30" r="1.35" class="b"/><circle cx="645.30" cy="116.30" r="1.35" class="b"/><circle cx="543.25" cy="108.90" r="1.35" class="b"/><circle cx="553.85" cy="118.80" r="1.35" class="b"/><circle cx="554.76" cy="116.48" r="1.35" class="b"/><circle cx="554.00" cy="115.62" r="1.35" class="b"/><circle cx="540.99" cy="112.73" r="1.35" class="b"/><circle cx="543.82" cy="106.38" r="1.35" class="b"/><circle cx="536.61" cy="109.63" r="1.35" class="b"/><circle cx="541.70" cy="115.00" r="1.35" class="b"/><circle cx="557.04" cy="111.81" r="1.35" class="b"/><circle cx="556.61" cy="118.84" r="1.35" class="b"/><circle cx="557.01" cy="110.74" r="1.35" class="b"/><circle cx="540.85" cy="108.95" r="1.35" class="b"/><circle cx="540.33" cy="108.66" r="1.35" class="b"/><circle cx="549.73" cy="117.70" r="1.35" class="b"/><circle cx="554.49" cy="112.23" r="1.35" class="b"/><circle cx="550.37" cy="116.40" r="1.35" class="b"/><circle cx="537.87" cy="114.59" r="1.35" class="b"/><circle cx="556.02" cy="116.17" r="1.35" class="b"/><line x1="530.5" y1="16.9" x2="560" y2="16.9" stroke="#e41a24" stroke-width="2.0" stroke-opacity="0.85"/><line x1="515.00" y1="16.20" x2="515.00" y2="120.10" stroke="#5c5c5c" stroke-width="1.5"/><line x1="510.20" y1="16.80" x2="515.00" y2="16.80" stroke="#202020" stroke-width="1.2"/><text x="503.60" y="21.00" font-size="10.5" text-anchor="end" >1</text><line x1="510.20" y1="68.15" x2="515.00" y2="68.15" stroke="#202020" stroke-width="1.2"/><text x="503.60" y="72.35" font-size="10.5" text-anchor="end" >0.5</text><line x1="510.20" y1="119.50" x2="515.00" y2="119.50" stroke="#202020" stroke-width="1.2"/><text x="503.60" y="123.70" font-size="10.5" text-anchor="end" >0</text><line x1="514.40" y1="119.50" x2="661.50" y2="119.50" stroke="#202020" stroke-width="1.2"/><line x1="515.00" y1="119.50" x2="515.00" y2="124.30" stroke="#202020" stroke-width="1.2"/><text x="516.70" y="140.10" font-size="10.5" text-anchor="middle" >0</text><line x1="551.48" y1="119.50" x2="551.48" y2="124.30" stroke="#202020" stroke-width="1.2"/><text x="553.18" y="140.10" font-size="10.5" text-anchor="middle" >500</text><line x1="587.95" y1="119.50" x2="587.95" y2="124.30" stroke="#202020" stroke-width="1.2"/><text x="589.65" y="140.10" font-size="10.5" text-anchor="middle" >1000</text><line x1="624.42" y1="119.50" x2="624.42" y2="124.30" stroke="#202020" stroke-width="1.2"/><text x="626.12" y="140.10" font-size="10.5" text-anchor="middle" >1500</text><line x1="660.90" y1="119.50" x2="660.90" y2="124.30" stroke="#202020" stroke-width="1.2"/><text x="662.60" y="140.10" font-size="10.5" text-anchor="middle" >2000</text><text x="588" y="156.7" font-size="11.6" text-anchor="middle">CD4+ T cells (cells/mm<tspan font-size="8" dy="-4.8">3</tspan><tspan dy="4.8">)</tspan></text><text x="469.60" y="68.00" font-size="11.6" text-anchor="middle" transform="rotate(-90 469.6 68.0)">GSI</text><line x1="66.00" y1="204.70" x2="66.00" y2="322.70" stroke="#202020" stroke-width="1.2"/><line x1="61.20" y1="205.30" x2="66.00" y2="205.30" stroke="#202020" stroke-width="1.2"/><text x="54.60" y="209.50" font-size="10.5" text-anchor="end" >1</text><line x1="61.20" y1="263.70" x2="66.00" y2="263.70" stroke="#202020" stroke-width="1.2"/><text x="54.60" y="267.90" font-size="10.5" text-anchor="end" >0.5</text><line x1="61.20" y1="322.10" x2="66.00" y2="322.10" stroke="#202020" stroke-width="1.2"/><text x="54.60" y="326.30" font-size="10.5" text-anchor="end" >0</text><line x1="65.40" y1="322.10" x2="213.00" y2="322.10" stroke="#202020" stroke-width="1.2"/><line x1="84.60" y1="322.10" x2="84.60" y2="326.90" stroke="#202020" stroke-width="1.2"/><text x="84.60" y="342.40" font-size="12.2" text-anchor="middle" >M</text><line x1="121.10" y1="322.10" x2="121.10" y2="326.90" stroke="#202020" stroke-width="1.2"/><text x="121.10" y="342.40" font-size="12.2" text-anchor="middle" >F</text><line x1="157.40" y1="322.10" x2="157.40" y2="326.90" stroke="#202020" stroke-width="1.2"/><text x="157.40" y="342.40" font-size="12.2" text-anchor="middle" >M</text><line x1="193.90" y1="322.10" x2="193.90" y2="326.90" stroke="#202020" stroke-width="1.2"/><text x="193.90" y="342.40" font-size="12.2" text-anchor="middle" >F</text><rect x="77.50" y="205.30" width="14.50" height="16.00" fill="none" stroke="#202020" stroke-width="1.6" stroke-linejoin="round"/><line x1="70.00" y1="205.30" x2="98.70" y2="205.30" stroke="#202020" stroke-width="1.6"/><rect x="113.70" y="205.30" width="15.00" height="41.70" fill="none" stroke="#202020" stroke-width="1.6" stroke-linejoin="round"/><line x1="106.50" y1="205.30" x2="135.60" y2="205.30" stroke="#202020" stroke-width="1.6"/><rect x="150.40" y="301.00" width="14.60" height="16.30" fill="none" stroke="#202020" stroke-width="1.6" stroke-linejoin="round"/><line x1="143.00" y1="310.60" x2="172.30" y2="310.60" stroke="#202020" stroke-width="1.6"/><rect x="186.90" y="297.00" width="14.60" height="17.30" fill="none" stroke="#202020" stroke-width="1.6" stroke-linejoin="round"/><line x1="179.40" y1="305.40" x2="209.00" y2="305.40" stroke="#202020" stroke-width="1.6"/><circle cx="84.60" cy="205.30" r="1.35" class="r"/><circle cx="84.60" cy="207.00" r="1.35" class="r"/><circle cx="84.60" cy="208.70" r="1.35" class="r"/><circle cx="84.60" cy="210.40" r="1.35" class="r"/><circle cx="84.60" cy="212.10" r="1.35" class="r"/><circle cx="84.60" cy="213.80" r="1.35" class="r"/><circle cx="84.60" cy="215.50" r="1.35" class="r"/><circle cx="84.60" cy="217.20" r="1.35" class="r"/><circle cx="84.60" cy="218.90" r="1.35" class="r"/><circle cx="84.60" cy="220.60" r="1.35" class="r"/><circle cx="84.60" cy="222.30" r="1.35" class="r"/><circle cx="84.60" cy="224.00" r="1.35" class="r"/><circle cx="84.60" cy="225.70" r="1.35" class="r"/><circle cx="84.60" cy="227.40" r="1.35" class="r"/><circle cx="84.60" cy="229.10" r="1.35" class="r"/><circle cx="84.60" cy="230.80" r="1.35" class="r"/><circle cx="84.60" cy="232.50" r="1.35" class="r"/><circle cx="84.60" cy="234.20" r="1.35" class="r"/><circle cx="84.60" cy="235.90" r="1.35" class="r"/><circle cx="84.60" cy="237.60" r="1.35" class="r"/><circle cx="84.60" cy="239.30" r="1.35" class="r"/><circle cx="84.60" cy="241.00" r="1.35" class="r"/><circle cx="84.60" cy="242.70" r="1.35" class="r"/><circle cx="84.60" cy="244.40" r="1.35" class="r"/><circle cx="84.60" cy="246.10" r="1.35" class="r"/><circle cx="84.60" cy="247.80" r="1.35" class="r"/><circle cx="84.60" cy="249.50" r="1.35" class="r"/><circle cx="84.60" cy="251.20" r="1.35" class="r"/><circle cx="84.60" cy="252.90" r="1.35" class="r"/><circle cx="84.60" cy="254.60" r="1.35" class="r"/><circle cx="84.60" cy="256.30" r="1.35" class="r"/><circle cx="84.60" cy="258.00" r="1.35" class="r"/><circle cx="84.60" cy="259.70" r="1.35" class="r"/><circle cx="84.60" cy="261.40" r="1.35" class="r"/><circle cx="84.60" cy="263.10" r="1.35" class="r"/><circle cx="84.60" cy="264.80" r="1.35" class="r"/><circle cx="84.60" cy="266.50" r="1.35" class="r"/><circle cx="84.60" cy="268.20" r="1.35" class="r"/><circle cx="84.60" cy="269.90" r="1.35" class="r"/><circle cx="84.60" cy="271.60" r="1.35" class="r"/><circle cx="84.60" cy="273.30" r="1.35" class="r"/><circle cx="84.60" cy="275.00" r="1.35" class="r"/><circle cx="84.60" cy="276.70" r="1.35" class="r"/><circle cx="84.60" cy="278.40" r="1.35" class="r"/><circle cx="84.60" cy="280.10" r="1.35" class="r"/><circle cx="84.60" cy="281.80" r="1.35" class="r"/><circle cx="84.60" cy="283.50" r="1.35" class="r"/><circle cx="84.60" cy="285.20" r="1.35" class="r"/><circle cx="84.60" cy="286.90" r="1.35" class="r"/><circle cx="84.60" cy="290.40" r="1.35" class="r"/><circle cx="84.60" cy="293.00" r="1.35" class="r"/><circle cx="84.60" cy="299.60" r="1.35" class="r"/><circle cx="84.60" cy="302.20" r="1.35" class="r"/><circle cx="84.60" cy="309.70" r="1.35" class="r"/><circle cx="84.60" cy="312.30" r="1.35" class="r"/><circle cx="121.10" cy="205.30" r="1.35" class="r"/><circle cx="121.10" cy="207.10" r="1.35" class="r"/><circle cx="121.10" cy="211.20" r="1.35" class="r"/><circle cx="121.10" cy="217.20" r="1.35" class="r"/><circle cx="121.10" cy="219.80" r="1.35" class="r"/><circle cx="121.10" cy="225.40" r="1.35" class="r"/><circle cx="121.10" cy="228.00" r="1.35" class="r"/><circle cx="121.10" cy="231.40" r="1.35" class="r"/><circle cx="121.10" cy="234.00" r="1.35" class="r"/><circle cx="121.10" cy="242.60" r="1.35" class="r"/><circle cx="121.10" cy="245.20" r="1.35" class="r"/><circle cx="121.10" cy="250.70" r="1.35" class="r"/><circle cx="121.10" cy="258.80" r="1.35" class="r"/><circle cx="121.10" cy="261.40" r="1.35" class="r"/><circle cx="121.10" cy="264.00" r="1.35" class="r"/><circle cx="121.10" cy="268.00" r="1.35" class="r"/><circle cx="121.10" cy="270.60" r="1.35" class="r"/><circle cx="121.10" cy="273.20" r="1.35" class="r"/><circle cx="121.10" cy="275.80" r="1.35" class="r"/><circle cx="121.10" cy="280.30" r="1.35" class="r"/><circle cx="121.10" cy="282.90" r="1.35" class="r"/><circle cx="121.10" cy="285.50" r="1.35" class="r"/><circle cx="121.10" cy="295.50" r="1.35" class="r"/><circle cx="121.10" cy="298.10" r="1.35" class="r"/><circle cx="121.10" cy="301.60" r="1.35" class="r"/><circle cx="121.10" cy="304.20" r="1.35" class="r"/><circle cx="121.10" cy="306.80" r="1.35" class="r"/><circle cx="121.10" cy="309.40" r="1.35" class="r"/><circle cx="121.10" cy="313.80" r="1.35" class="r"/><circle cx="121.10" cy="316.40" r="1.35" class="r"/><circle cx="157.40" cy="249.40" r="1.35" class="b"/><circle cx="157.40" cy="253.60" r="1.35" class="b"/><circle cx="157.40" cy="257.30" r="1.35" class="b"/><circle cx="157.40" cy="263.40" r="1.35" class="b"/><circle cx="157.40" cy="269.60" r="1.35" class="b"/><circle cx="157.40" cy="272.20" r="1.35" class="b"/><circle cx="157.40" cy="274.80" r="1.35" class="b"/><circle cx="157.40" cy="277.40" r="1.35" class="b"/><circle cx="157.40" cy="283.10" r="1.35" class="b"/><circle cx="157.40" cy="284.60" r="1.35" class="b"/><circle cx="157.40" cy="286.10" r="1.35" class="b"/><circle cx="157.40" cy="287.60" r="1.35" class="b"/><circle cx="157.40" cy="289.10" r="1.35" class="b"/><circle cx="157.40" cy="290.60" r="1.35" class="b"/><circle cx="157.40" cy="292.10" r="1.35" class="b"/><circle cx="157.40" cy="293.60" r="1.35" class="b"/><circle cx="157.40" cy="295.10" r="1.35" class="b"/><circle cx="157.40" cy="296.60" r="1.35" class="b"/><circle cx="157.40" cy="298.10" r="1.35" class="b"/><circle cx="157.40" cy="299.60" r="1.35" class="b"/><circle cx="157.40" cy="301.10" r="1.35" class="b"/><circle cx="157.40" cy="302.60" r="1.35" class="b"/><circle cx="157.40" cy="304.10" r="1.35" class="b"/><circle cx="157.40" cy="305.60" r="1.35" class="b"/><circle cx="157.40" cy="307.10" r="1.35" class="b"/><circle cx="157.40" cy="308.60" r="1.35" class="b"/><circle cx="157.40" cy="310.10" r="1.35" class="b"/><circle cx="157.40" cy="311.60" r="1.35" class="b"/><circle cx="157.40" cy="313.10" r="1.35" class="b"/><circle cx="157.40" cy="314.60" r="1.35" class="b"/><circle cx="157.40" cy="316.10" r="1.35" class="b"/><circle cx="157.40" cy="317.60" r="1.35" class="b"/><circle cx="157.40" cy="319.10" r="1.35" class="b"/><circle cx="157.40" cy="320.60" r="1.35" class="b"/><circle cx="157.40" cy="322.10" r="1.35" class="b"/><circle cx="193.90" cy="206.40" r="1.35" class="b"/><circle cx="193.90" cy="243.20" r="1.35" class="b"/><circle cx="193.90" cy="246.20" r="1.35" class="b"/><circle cx="193.90" cy="259.70" r="1.35" class="b"/><circle cx="193.90" cy="270.80" r="1.35" class="b"/><circle cx="193.90" cy="272.00" r="1.35" class="b"/><circle cx="193.90" cy="281.90" r="1.35" class="b"/><circle cx="193.90" cy="283.10" r="1.35" class="b"/><circle cx="193.90" cy="289.30" r="1.35" class="b"/><circle cx="193.90" cy="291.90" r="1.35" class="b"/><circle cx="193.90" cy="294.50" r="1.35" class="b"/><circle cx="193.90" cy="295.50" r="1.35" class="b"/><circle cx="193.90" cy="297.00" r="1.35" class="b"/><circle cx="193.90" cy="298.50" r="1.35" class="b"/><circle cx="193.90" cy="300.00" r="1.35" class="b"/><circle cx="193.90" cy="301.50" r="1.35" class="b"/><circle cx="193.90" cy="303.00" r="1.35" class="b"/><circle cx="193.90" cy="304.50" r="1.35" class="b"/><circle cx="193.90" cy="306.00" r="1.35" class="b"/><circle cx="193.90" cy="307.50" r="1.35" class="b"/><circle cx="193.90" cy="309.00" r="1.35" class="b"/><circle cx="193.90" cy="310.50" r="1.35" class="b"/><circle cx="193.90" cy="312.00" r="1.35" class="b"/><circle cx="193.90" cy="313.50" r="1.35" class="b"/><circle cx="193.90" cy="315.00" r="1.35" class="b"/><circle cx="193.90" cy="316.50" r="1.35" class="b"/><circle cx="193.90" cy="318.00" r="1.35" class="b"/><circle cx="193.90" cy="319.50" r="1.35" class="b"/><circle cx="193.90" cy="321.00" r="1.35" class="b"/><circle cx="193.90" cy="322.50" r="1.35" class="b"/><text x="20.60" y="263.80" font-size="11.6" text-anchor="middle" transform="rotate(-90 20.6 263.8)">GSI</text><line x1="290.30" y1="204.70" x2="290.30" y2="322.70" stroke="#202020" stroke-width="1.2"/><line x1="285.50" y1="205.30" x2="290.30" y2="205.30" stroke="#202020" stroke-width="1.2"/><text x="278.90" y="209.50" font-size="10.5" text-anchor="end" >1</text><line x1="285.50" y1="263.70" x2="290.30" y2="263.70" stroke="#202020" stroke-width="1.2"/><text x="278.90" y="267.90" font-size="10.5" text-anchor="end" >0.5</text><line x1="285.50" y1="322.10" x2="290.30" y2="322.10" stroke="#202020" stroke-width="1.2"/><text x="278.90" y="326.30" font-size="10.5" text-anchor="end" >0</text><line x1="289.70" y1="322.10" x2="437.20" y2="322.10" stroke="#202020" stroke-width="1.2"/><line x1="302.60" y1="322.10" x2="302.60" y2="326.90" stroke="#202020" stroke-width="1.2"/><text x="302.60" y="342.40" font-size="12.2" text-anchor="middle" >H</text><line x1="327.40" y1="322.10" x2="327.40" y2="326.90" stroke="#202020" stroke-width="1.2"/><text x="327.40" y="342.40" font-size="12.2" text-anchor="middle" >M</text><line x1="351.50" y1="322.10" x2="351.50" y2="326.90" stroke="#202020" stroke-width="1.2"/><text x="351.50" y="342.40" font-size="12.2" text-anchor="middle" >I</text><line x1="375.70" y1="322.10" x2="375.70" y2="326.90" stroke="#202020" stroke-width="1.2"/><text x="375.70" y="342.40" font-size="12.2" text-anchor="middle" >H</text><line x1="400.50" y1="322.10" x2="400.50" y2="326.90" stroke="#202020" stroke-width="1.2"/><text x="400.50" y="342.40" font-size="12.2" text-anchor="middle" >M</text><line x1="425.00" y1="322.10" x2="425.00" y2="326.90" stroke="#202020" stroke-width="1.2"/><text x="425.00" y="342.40" font-size="12.2" text-anchor="middle" >I</text><rect x="298.20" y="205.30" width="9.40" height="19.00" fill="none" stroke="#202020" stroke-width="1.6" stroke-linejoin="round"/><line x1="293.20" y1="205.30" x2="312.30" y2="205.30" stroke="#202020" stroke-width="1.6"/><rect x="322.60" y="205.30" width="9.60" height="32.20" fill="none" stroke="#202020" stroke-width="1.6" stroke-linejoin="round"/><line x1="317.70" y1="205.30" x2="336.80" y2="205.30" stroke="#202020" stroke-width="1.6"/><rect x="346.70" y="205.30" width="10.00" height="62.20" fill="none" stroke="#202020" stroke-width="1.6" stroke-linejoin="round"/><line x1="342.20" y1="205.30" x2="361.60" y2="205.30" stroke="#202020" stroke-width="1.6"/><rect x="370.60" y="297.30" width="10.20" height="16.70" fill="none" stroke="#202020" stroke-width="1.6" stroke-linejoin="round"/><line x1="366.00" y1="307.60" x2="385.60" y2="307.60" stroke="#202020" stroke-width="1.6"/><rect x="395.50" y="302.40" width="10.00" height="14.60" fill="none" stroke="#202020" stroke-width="1.6" stroke-linejoin="round"/><line x1="391.00" y1="311.60" x2="409.80" y2="311.60" stroke="#202020" stroke-width="1.6"/><rect x="419.90" y="273.00" width="10.00" height="37.30" fill="none" stroke="#202020" stroke-width="1.6" stroke-linejoin="round"/><line x1="415.30" y1="295.40" x2="435.10" y2="295.40" stroke="#202020" stroke-width="1.6"/><circle cx="302.60" cy="205.20" r="1.35" class="r"/><circle cx="302.60" cy="207.00" r="1.35" class="r"/><circle cx="302.60" cy="210.40" r="1.35" class="r"/><circle cx="302.60" cy="213.90" r="1.35" class="r"/><circle cx="302.60" cy="217.40" r="1.35" class="r"/><circle cx="302.60" cy="220.90" r="1.35" class="r"/><circle cx="302.60" cy="222.60" r="1.35" class="r"/><circle cx="302.60" cy="227.20" r="1.35" class="r"/><circle cx="302.60" cy="229.60" r="1.35" class="r"/><circle cx="302.60" cy="242.60" r="1.35" class="r"/><circle cx="302.60" cy="245.20" r="1.35" class="r"/><circle cx="302.60" cy="247.80" r="1.35" class="r"/><circle cx="302.60" cy="251.90" r="1.35" class="r"/><circle cx="302.60" cy="254.50" r="1.35" class="r"/><circle cx="302.60" cy="258.30" r="1.35" class="r"/><circle cx="302.60" cy="260.90" r="1.35" class="r"/><circle cx="302.60" cy="263.50" r="1.35" class="r"/><circle cx="302.60" cy="271.00" r="1.35" class="r"/><circle cx="302.60" cy="273.60" r="1.35" class="r"/><circle cx="302.60" cy="276.20" r="1.35" class="r"/><circle cx="302.60" cy="278.80" r="1.35" class="r"/><circle cx="302.60" cy="281.40" r="1.35" class="r"/><circle cx="302.60" cy="284.00" r="1.35" class="r"/><circle cx="302.60" cy="286.60" r="1.35" class="r"/><circle cx="302.60" cy="294.80" r="1.35" class="r"/><circle cx="302.60" cy="302.00" r="1.35" class="r"/><circle cx="302.60" cy="304.60" r="1.35" class="r"/><circle cx="302.60" cy="307.20" r="1.35" class="r"/><circle cx="302.60" cy="309.80" r="1.35" class="r"/><circle cx="327.40" cy="205.30" r="1.35" class="r"/><circle cx="327.40" cy="207.10" r="1.35" class="r"/><circle cx="327.40" cy="208.90" r="1.35" class="r"/><circle cx="327.40" cy="210.70" r="1.35" class="r"/><circle cx="327.40" cy="212.50" r="1.35" class="r"/><circle cx="327.40" cy="214.30" r="1.35" class="r"/><circle cx="327.40" cy="218.00" r="1.35" class="r"/><circle cx="327.40" cy="221.40" r="1.35" class="r"/><circle cx="327.40" cy="229.00" r="1.35" class="r"/><circle cx="327.40" cy="231.60" r="1.35" class="r"/><circle cx="327.40" cy="234.20" r="1.35" class="r"/><circle cx="327.40" cy="236.80" r="1.35" class="r"/><circle cx="327.40" cy="239.40" r="1.35" class="r"/><circle cx="327.40" cy="242.00" r="1.35" class="r"/><circle cx="327.40" cy="244.60" r="1.35" class="r"/><circle cx="327.40" cy="247.20" r="1.35" class="r"/><circle cx="327.40" cy="249.80" r="1.35" class="r"/><circle cx="327.40" cy="254.20" r="1.35" class="r"/><circle cx="327.40" cy="256.80" r="1.35" class="r"/><circle cx="327.40" cy="259.40" r="1.35" class="r"/><circle cx="327.40" cy="262.00" r="1.35" class="r"/><circle cx="327.40" cy="264.60" r="1.35" class="r"/><circle cx="327.40" cy="267.20" r="1.35" class="r"/><circle cx="327.40" cy="271.60" r="1.35" class="r"/><circle cx="327.40" cy="274.20" r="1.35" class="r"/><circle cx="327.40" cy="276.80" r="1.35" class="r"/><circle cx="327.40" cy="288.30" r="1.35" class="r"/><circle cx="327.40" cy="293.40" r="1.35" class="r"/><circle cx="327.40" cy="299.20" r="1.35" class="r"/><circle cx="327.40" cy="302.80" r="1.35" class="r"/><circle cx="327.40" cy="310.00" r="1.35" class="r"/><circle cx="327.40" cy="313.70" r="1.35" class="r"/><circle cx="351.50" cy="205.30" r="1.35" class="r"/><circle cx="351.50" cy="206.50" r="1.35" class="r"/><circle cx="351.50" cy="216.00" r="1.35" class="r"/><circle cx="351.50" cy="218.00" r="1.35" class="r"/><circle cx="351.50" cy="237.00" r="1.35" class="r"/><circle cx="351.50" cy="240.00" r="1.35" class="r"/><circle cx="351.50" cy="252.00" r="1.35" class="r"/><circle cx="351.50" cy="259.00" r="1.35" class="r"/><circle cx="351.50" cy="270.10" r="1.35" class="r"/><circle cx="351.50" cy="274.00" r="1.35" class="r"/><circle cx="351.50" cy="276.40" r="1.35" class="r"/><circle cx="351.50" cy="279.90" r="1.35" class="r"/><circle cx="351.50" cy="286.90" r="1.35" class="r"/><circle cx="351.50" cy="296.20" r="1.35" class="r"/><circle cx="351.50" cy="317.60" r="1.35" class="r"/><circle cx="375.70" cy="257.60" r="1.35" class="b"/><circle cx="375.70" cy="271.70" r="1.35" class="b"/><circle cx="375.70" cy="272.80" r="1.35" class="b"/><circle cx="375.70" cy="277.20" r="1.35" class="b"/><circle cx="375.70" cy="282.60" r="1.35" class="b"/><circle cx="375.70" cy="283.70" r="1.35" class="b"/><circle cx="375.70" cy="290.20" r="1.35" class="b"/><circle cx="375.70" cy="292.40" r="1.35" class="b"/><circle cx="375.70" cy="293.50" r="1.35" class="b"/><circle cx="375.70" cy="295.70" r="1.35" class="b"/><circle cx="375.70" cy="297.90" r="1.35" class="b"/><circle cx="375.70" cy="300.10" r="1.35" class="b"/><circle cx="375.70" cy="302.30" r="1.35" class="b"/><circle cx="375.70" cy="304.50" r="1.35" class="b"/><circle cx="375.70" cy="306.70" r="1.35" class="b"/><circle cx="375.70" cy="308.90" r="1.35" class="b"/><circle cx="375.70" cy="311.10" r="1.35" class="b"/><circle cx="375.70" cy="313.30" r="1.35" class="b"/><circle cx="375.70" cy="315.50" r="1.35" class="b"/><circle cx="375.70" cy="317.70" r="1.35" class="b"/><circle cx="375.70" cy="319.90" r="1.35" class="b"/><circle cx="375.70" cy="322.10" r="1.35" class="b"/><circle cx="400.50" cy="253.90" r="1.35" class="b"/><circle cx="400.50" cy="259.80" r="1.35" class="b"/><circle cx="400.50" cy="263.00" r="1.35" class="b"/><circle cx="400.50" cy="265.20" r="1.35" class="b"/><circle cx="400.50" cy="267.40" r="1.35" class="b"/><circle cx="400.50" cy="270.70" r="1.35" class="b"/><circle cx="400.50" cy="273.90" r="1.35" class="b"/><circle cx="400.50" cy="276.00" r="1.35" class="b"/><circle cx="400.50" cy="278.20" r="1.35" class="b"/><circle cx="400.50" cy="280.40" r="1.35" class="b"/><circle cx="400.50" cy="282.60" r="1.35" class="b"/><circle cx="400.50" cy="284.80" r="1.35" class="b"/><circle cx="400.50" cy="287.00" r="1.35" class="b"/><circle cx="400.50" cy="289.20" r="1.35" class="b"/><circle cx="400.50" cy="291.40" r="1.35" class="b"/><circle cx="400.50" cy="293.60" r="1.35" class="b"/><circle cx="400.50" cy="295.80" r="1.35" class="b"/><circle cx="400.50" cy="298.00" r="1.35" class="b"/><circle cx="400.50" cy="300.20" r="1.35" class="b"/><circle cx="400.50" cy="302.40" r="1.35" class="b"/><circle cx="400.50" cy="304.60" r="1.35" class="b"/><circle cx="400.50" cy="306.80" r="1.35" class="b"/><circle cx="400.50" cy="309.00" r="1.35" class="b"/><circle cx="400.50" cy="311.20" r="1.35" class="b"/><circle cx="400.50" cy="313.40" r="1.35" class="b"/><circle cx="400.50" cy="315.60" r="1.35" class="b"/><circle cx="400.50" cy="317.80" r="1.35" class="b"/><circle cx="400.50" cy="320.00" r="1.35" class="b"/><circle cx="400.50" cy="322.20" r="1.35" class="b"/><circle cx="425.00" cy="206.00" r="1.35" class="b"/><circle cx="425.00" cy="243.80" r="1.35" class="b"/><circle cx="425.00" cy="272.90" r="1.35" class="b"/><circle cx="425.00" cy="288.10" r="1.35" class="b"/><circle cx="425.00" cy="295.40" r="1.35" class="b"/><circle cx="425.00" cy="306.80" r="1.35" class="b"/><circle cx="425.00" cy="310.60" r="1.35" class="b"/><circle cx="425.00" cy="314.90" r="1.35" class="b"/><circle cx="425.00" cy="319.60" r="1.35" class="b"/><text x="244.40" y="263.80" font-size="11.6" text-anchor="middle" transform="rotate(-90 244.4 263.8)">GSI</text><line x1="515.00" y1="204.70" x2="515.00" y2="322.70" stroke="#5c5c5c" stroke-width="1.5"/><line x1="510.20" y1="205.30" x2="515.00" y2="205.30" stroke="#202020" stroke-width="1.2"/><text x="503.60" y="209.50" font-size="10.5" text-anchor="end" >1</text><line x1="510.20" y1="263.70" x2="515.00" y2="263.70" stroke="#202020" stroke-width="1.2"/><text x="503.60" y="267.90" font-size="10.5" text-anchor="end" >0.5</text><line x1="510.20" y1="322.10" x2="515.00" y2="322.10" stroke="#202020" stroke-width="1.2"/><text x="503.60" y="326.30" font-size="10.5" text-anchor="end" >0</text><line x1="514.40" y1="322.10" x2="661.70" y2="322.10" stroke="#202020" stroke-width="1.2"/><line x1="524.10" y1="322.10" x2="524.10" y2="326.90" stroke="#202020" stroke-width="1.2"/><text x="524.10" y="342.40" font-size="12.2" text-anchor="middle" >A</text><line x1="542.30" y1="322.10" x2="542.30" y2="326.90" stroke="#202020" stroke-width="1.2"/><text x="542.30" y="342.40" font-size="12.2" text-anchor="middle" >B</text><line x1="560.60" y1="322.10" x2="560.60" y2="326.90" stroke="#202020" stroke-width="1.2"/><text x="560.60" y="342.40" font-size="12.2" text-anchor="middle" >C</text><line x1="578.70" y1="322.10" x2="578.70" y2="326.90" stroke="#202020" stroke-width="1.2"/><text x="578.70" y="342.40" font-size="12.2" text-anchor="middle" >D</text><line x1="597.20" y1="322.10" x2="597.20" y2="326.90" stroke="#202020" stroke-width="1.2"/><text x="597.20" y="342.40" font-size="12.2" text-anchor="middle" >A</text><line x1="615.50" y1="322.10" x2="615.50" y2="326.90" stroke="#202020" stroke-width="1.2"/><text x="615.50" y="342.40" font-size="12.2" text-anchor="middle" >B</text><line x1="633.70" y1="322.10" x2="633.70" y2="326.90" stroke="#202020" stroke-width="1.2"/><text x="633.70" y="342.40" font-size="12.2" text-anchor="middle" >C</text><line x1="652.00" y1="322.10" x2="652.00" y2="326.90" stroke="#202020" stroke-width="1.2"/><text x="652.00" y="342.40" font-size="12.2" text-anchor="middle" >D</text><rect x="520.30" y="205.00" width="7.60" height="28.20" fill="none" stroke="#202020" stroke-width="1.6" stroke-linejoin="round"/><line x1="517.00" y1="205.00" x2="531.10" y2="205.00" stroke="#202020" stroke-width="1.6"/><rect x="538.60" y="205.00" width="7.50" height="27.10" fill="none" stroke="#202020" stroke-width="1.6" stroke-linejoin="round"/><line x1="535.40" y1="205.00" x2="549.30" y2="205.00" stroke="#202020" stroke-width="1.6"/><rect x="556.90" y="205.00" width="7.50" height="17.70" fill="none" stroke="#202020" stroke-width="1.6" stroke-linejoin="round"/><line x1="553.70" y1="205.00" x2="567.40" y2="205.00" stroke="#202020" stroke-width="1.6"/><rect x="575.00" y="205.00" width="7.50" height="11.10" fill="none" stroke="#202020" stroke-width="1.6" stroke-linejoin="round"/><line x1="572.00" y1="205.00" x2="586.30" y2="205.00" stroke="#202020" stroke-width="1.6"/><rect x="593.70" y="294.10" width="7.10" height="15.00" fill="none" stroke="#202020" stroke-width="1.6" stroke-linejoin="round"/><line x1="590.10" y1="304.30" x2="604.70" y2="304.30" stroke="#202020" stroke-width="1.6"/><rect x="612.00" y="299.60" width="7.10" height="16.80" fill="none" stroke="#202020" stroke-width="1.6" stroke-linejoin="round"/><line x1="608.40" y1="309.10" x2="623.00" y2="309.10" stroke="#202020" stroke-width="1.6"/><rect x="630.10" y="290.90" width="7.70" height="23.50" fill="none" stroke="#202020" stroke-width="1.6" stroke-linejoin="round"/><line x1="626.60" y1="307.70" x2="640.80" y2="307.70" stroke="#202020" stroke-width="1.6"/><rect x="648.40" y="303.70" width="7.70" height="11.70" fill="none" stroke="#202020" stroke-width="1.6" stroke-linejoin="round"/><line x1="645.30" y1="309.10" x2="659.70" y2="309.10" stroke="#202020" stroke-width="1.6"/><circle cx="524.10" cy="205.00" r="1.35" class="r"/><circle cx="524.10" cy="211.00" r="1.35" class="r"/><circle cx="524.10" cy="218.00" r="1.35" class="r"/><circle cx="524.10" cy="229.30" r="1.35" class="r"/><circle cx="524.10" cy="236.80" r="1.35" class="r"/><circle cx="524.10" cy="238.70" r="1.35" class="r"/><circle cx="524.10" cy="263.50" r="1.35" class="r"/><circle cx="524.10" cy="280.60" r="1.35" class="r"/><circle cx="524.10" cy="284.80" r="1.35" class="r"/><circle cx="524.10" cy="305.20" r="1.35" class="r"/><circle cx="524.10" cy="306.80" r="1.35" class="r"/><circle cx="542.30" cy="205.00" r="1.35" class="r"/><circle cx="542.30" cy="207.20" r="1.35" class="r"/><circle cx="542.30" cy="209.40" r="1.35" class="r"/><circle cx="542.30" cy="211.60" r="1.35" class="r"/><circle cx="542.30" cy="213.80" r="1.35" class="r"/><circle cx="542.30" cy="216.00" r="1.35" class="r"/><circle cx="542.30" cy="218.20" r="1.35" class="r"/><circle cx="542.30" cy="220.40" r="1.35" class="r"/><circle cx="542.30" cy="222.60" r="1.35" class="r"/><circle cx="542.30" cy="224.80" r="1.35" class="r"/><circle cx="542.30" cy="227.00" r="1.35" class="r"/><circle cx="542.30" cy="229.20" r="1.35" class="r"/><circle cx="542.30" cy="231.40" r="1.35" class="r"/><circle cx="542.30" cy="233.60" r="1.35" class="r"/><circle cx="542.30" cy="235.80" r="1.35" class="r"/><circle cx="542.30" cy="238.00" r="1.35" class="r"/><circle cx="542.30" cy="240.20" r="1.35" class="r"/><circle cx="542.30" cy="242.40" r="1.35" class="r"/><circle cx="542.30" cy="244.60" r="1.35" class="r"/><circle cx="542.30" cy="246.80" r="1.35" class="r"/><circle cx="542.30" cy="249.00" r="1.35" class="r"/><circle cx="542.30" cy="251.20" r="1.35" class="r"/><circle cx="542.30" cy="253.40" r="1.35" class="r"/><circle cx="542.30" cy="255.60" r="1.35" class="r"/><circle cx="542.30" cy="257.80" r="1.35" class="r"/><circle cx="542.30" cy="260.00" r="1.35" class="r"/><circle cx="542.30" cy="262.20" r="1.35" class="r"/><circle cx="542.30" cy="264.40" r="1.35" class="r"/><circle cx="542.30" cy="266.60" r="1.35" class="r"/><circle cx="542.30" cy="268.80" r="1.35" class="r"/><circle cx="542.30" cy="271.00" r="1.35" class="r"/><circle cx="542.30" cy="273.20" r="1.35" class="r"/><circle cx="542.30" cy="275.40" r="1.35" class="r"/><circle cx="542.30" cy="277.60" r="1.35" class="r"/><circle cx="542.30" cy="279.80" r="1.35" class="r"/><circle cx="542.30" cy="282.50" r="1.35" class="r"/><circle cx="542.30" cy="287.00" r="1.35" class="r"/><circle cx="542.30" cy="291.80" r="1.35" class="r"/><circle cx="542.30" cy="294.40" r="1.35" class="r"/><circle cx="542.30" cy="297.00" r="1.35" class="r"/><circle cx="542.30" cy="299.60" r="1.35" class="r"/><circle cx="542.30" cy="302.20" r="1.35" class="r"/><circle cx="542.30" cy="308.00" r="1.35" class="r"/><circle cx="542.30" cy="310.60" r="1.35" class="r"/><circle cx="542.30" cy="313.20" r="1.35" class="r"/><circle cx="542.30" cy="315.80" r="1.35" class="r"/><circle cx="542.30" cy="318.40" r="1.35" class="r"/><circle cx="560.60" cy="205.00" r="1.35" class="r"/><circle cx="560.60" cy="208.20" r="1.35" class="r"/><circle cx="560.60" cy="209.10" r="1.35" class="r"/><circle cx="560.60" cy="215.30" r="1.35" class="r"/><circle cx="560.60" cy="217.20" r="1.35" class="r"/><circle cx="560.60" cy="219.50" r="1.35" class="r"/><circle cx="560.60" cy="226.00" r="1.35" class="r"/><circle cx="560.60" cy="228.00" r="1.35" class="r"/><circle cx="560.60" cy="229.00" r="1.35" class="r"/><circle cx="560.60" cy="243.00" r="1.35" class="r"/><circle cx="560.60" cy="247.70" r="1.35" class="r"/><circle cx="560.60" cy="249.60" r="1.35" class="r"/><circle cx="560.60" cy="259.30" r="1.35" class="r"/><circle cx="560.60" cy="261.60" r="1.35" class="r"/><circle cx="560.60" cy="265.00" r="1.35" class="r"/><circle cx="560.60" cy="267.40" r="1.35" class="r"/><circle cx="560.60" cy="270.90" r="1.35" class="r"/><circle cx="560.60" cy="273.50" r="1.35" class="r"/><circle cx="560.60" cy="276.10" r="1.35" class="r"/><circle cx="560.60" cy="278.70" r="1.35" class="r"/><circle cx="560.60" cy="286.00" r="1.35" class="r"/><circle cx="560.60" cy="288.30" r="1.35" class="r"/><circle cx="560.60" cy="302.20" r="1.35" class="r"/><circle cx="560.60" cy="306.80" r="1.35" class="r"/><circle cx="560.60" cy="308.50" r="1.35" class="r"/><circle cx="560.60" cy="310.30" r="1.35" class="r"/><circle cx="578.70" cy="205.00" r="1.35" class="r"/><circle cx="578.70" cy="220.40" r="1.35" class="r"/><circle cx="578.70" cy="221.40" r="1.35" class="r"/><circle cx="597.20" cy="283.40" r="1.35" class="b"/><circle cx="597.20" cy="304.30" r="1.35" class="b"/><circle cx="597.20" cy="313.80" r="1.35" class="b"/><circle cx="615.50" cy="206.10" r="1.35" class="b"/><circle cx="615.50" cy="243.00" r="1.35" class="b"/><circle cx="615.50" cy="245.70" r="1.35" class="b"/><circle cx="615.50" cy="248.70" r="1.35" class="b"/><circle cx="615.50" cy="253.80" r="1.35" class="b"/><circle cx="615.50" cy="257.90" r="1.35" class="b"/><circle cx="615.50" cy="261.00" r="1.35" class="b"/><circle cx="615.50" cy="264.00" r="1.35" class="b"/><circle cx="615.50" cy="266.40" r="1.35" class="b"/><circle cx="615.50" cy="268.80" r="1.35" class="b"/><circle cx="615.50" cy="271.20" r="1.35" class="b"/><circle cx="615.50" cy="273.60" r="1.35" class="b"/><circle cx="615.50" cy="276.00" r="1.35" class="b"/><circle cx="615.50" cy="278.40" r="1.35" class="b"/><circle cx="615.50" cy="280.80" r="1.35" class="b"/><circle cx="615.50" cy="283.20" r="1.35" class="b"/><circle cx="615.50" cy="285.60" r="1.35" class="b"/><circle cx="615.50" cy="288.00" r="1.35" class="b"/><circle cx="615.50" cy="290.40" r="1.35" class="b"/><circle cx="615.50" cy="292.80" r="1.35" class="b"/><circle cx="615.50" cy="296.00" r="1.35" class="b"/><circle cx="615.50" cy="297.40" r="1.35" class="b"/><circle cx="615.50" cy="298.80" r="1.35" class="b"/><circle cx="615.50" cy="300.20" r="1.35" class="b"/><circle cx="615.50" cy="301.60" r="1.35" class="b"/><circle cx="615.50" cy="303.00" r="1.35" class="b"/><circle cx="615.50" cy="304.40" r="1.35" class="b"/><circle cx="615.50" cy="305.80" r="1.35" class="b"/><circle cx="615.50" cy="307.20" r="1.35" class="b"/><circle cx="615.50" cy="308.60" r="1.35" class="b"/><circle cx="615.50" cy="310.00" r="1.35" class="b"/><circle cx="615.50" cy="311.40" r="1.35" class="b"/><circle cx="615.50" cy="312.80" r="1.35" class="b"/><circle cx="615.50" cy="314.20" r="1.35" class="b"/><circle cx="615.50" cy="315.60" r="1.35" class="b"/><circle cx="615.50" cy="317.00" r="1.35" class="b"/><circle cx="615.50" cy="318.40" r="1.35" class="b"/><circle cx="615.50" cy="319.80" r="1.35" class="b"/><circle cx="615.50" cy="321.20" r="1.35" class="b"/><circle cx="633.70" cy="265.20" r="1.35" class="b"/><circle cx="633.70" cy="277.30" r="1.35" class="b"/><circle cx="633.70" cy="282.20" r="1.35" class="b"/><circle cx="633.70" cy="298.60" r="1.35" class="b"/><circle cx="633.70" cy="304.70" r="1.35" class="b"/><circle cx="633.70" cy="307.70" r="1.35" class="b"/><circle cx="633.70" cy="310.50" r="1.35" class="b"/><circle cx="633.70" cy="313.50" r="1.35" class="b"/><circle cx="633.70" cy="316.90" r="1.35" class="b"/><circle cx="652.00" cy="298.60" r="1.35" class="b"/><circle cx="652.00" cy="309.10" r="1.35" class="b"/><circle cx="652.00" cy="321.60" r="1.35" class="b"/><text x="469.10" y="263.80" font-size="11.6" text-anchor="middle" transform="rotate(-90 469.1 263.8)">GSI</text></svg></body></html>
